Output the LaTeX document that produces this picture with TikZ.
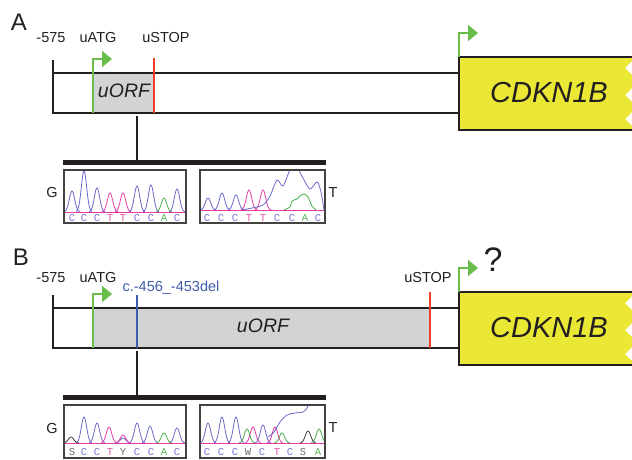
\documentclass[tikz,border=0pt]{standalone}
\usepackage{fontspec}
\setmainfont{Liberation Sans}
\newfontfamily\seqfont{Liberation Mono}
\usepackage{xcolor}
\usetikzlibrary{arrows.meta}

\definecolor{linec}{RGB}{35,31,32}
\definecolor{orfgray}{RGB}{210,211,213}
\definecolor{cdkfill}{RGB}{234,232,52}
\definecolor{startc}{RGB}{105,190,75}
\definecolor{stopc}{RGB}{237,64,36}
\definecolor{mutc}{RGB}{62,92,172}
\definecolor{tblue}{RGB}{105,105,200}
\definecolor{tpink}{RGB}{228,60,165}
\definecolor{tgreen}{RGB}{75,172,75}
\definecolor{tgray}{RGB}{60,60,60}
\definecolor{lblue}{RGB}{120,120,215}
\definecolor{lpink}{RGB}{232,85,172}
\definecolor{lgreen}{RGB}{90,180,90}
\definecolor{lgray}{RGB}{105,105,105}

\begin{document}
\begin{tikzpicture}[x=1pt,y=-1pt,
    lbl/.style={inner sep=0pt, text=linec, font=\fontsize{14.5}{16}\selectfont},
    panel/.style={inner sep=0pt, text=linec, font=\fontsize{24}{26}\selectfont},
    gene/.style={inner sep=0pt, text=linec, font=\fontsize{29}{31}\selectfont\itshape},
    orf/.style={inner sep=0pt, text=linec, font=\fontsize{19.5}{21}\selectfont\itshape},
    dna/.style={draw=linec, line width=1.8pt},
    atg/.style={draw=startc, line width=2pt, -{Triangle[length=10pt,width=16pt]}},
    stopmark/.style={draw=stopc, line width=2pt},
    stem/.style={draw=linec, line width=2.5pt},
    chrom/.style={draw=linec!85, line width=1.2pt},
    trace/.style={line width=0.8pt, line join=round},
    base/.style={inner sep=0pt, font=\seqfont\fontsize{10.5}{10.5}\selectfont},
  ]
  \useasboundingbox (0,0) rectangle (632,459);
  \def\pk#1#2#3#4{\draw[trace,#1] plot[variable=\t,domain=-8:8,samples=33,smooth] ({#2+\t},{#3-#4*exp(-0.07*(\t)*(\t))});}

  % uORF shading
  \fill[orfgray] (93,73) rectangle (154,113);
  \fill[orfgray] (93,308) rectangle (430,348);

  % both constructs
  \foreach \p/\dy in {A/0,B/235}{
    \begin{scope}[shift={(0,\dy)}]
      \draw[dna] (53,60) |- (459,113);
      \draw[dna] (53,73) -- (459,73);
      \fill[cdkfill] (459,57) -- (632,57) -- (632,61) -- (625,68) -- (632,75) -- (632,88) -- (625,95)
        -- (632,102) -- (632,112) -- (625,119) -- (632,126) -- (632,130) -- (459,130) -- cycle;
      \draw[dna] (632,57) -- (459,57) -- (459,130) -- (632,130);
      \node[gene] (cdk\p) at (549,93) {CDKN1B};
      \draw[atg] (459,57) |- (478,33);
      \draw[atg] (93,113) |- (112,59);
      \coordinate (hook\p) at (137,116);
      \coordinate (bar\p) at (137,162);
      \draw[stem] (hook\p) -- (bar\p);
      \draw[linec, line width=5pt] (63,162) -- (326,162);
      \draw[chrom] (64,170) rectangle (186,223);
      \draw[chrom] (200,170) rectangle (325,223);
      \node[lbl] (g\p) at (52,193) {G};
      \node[lbl] (t\p) at (333,193) {T};
    \end{scope}
  }

  % panel A
  \node[panel] (labA) at (19,22) {A};
  \node[lbl] (posA) at (51,38) {-575};
  \node[lbl] (atgA) at (98,38) {uATG};
  \node[lbl] (stopA) at (166,38) {uSTOP};
  \node[orf] (orfA) at (124,91) {uORF};
  \draw[stopmark] (154,58) -- (154,113);

  \begin{scope}
    \clip (65,171) rectangle (185,212.5);
    \draw[trace,tpink] (65,212) -- (185,212);
    \foreach \px/\ph in {72/21,84/41,97/24,137/26,151/27,177/23} {\pk{tblue}{\px}{212}{\ph}}
    \foreach \px/\ph in {110/19,123/19} {\pk{tpink}{\px}{212}{\ph}}
    \pk{tgreen}{164}{212}{14}
  \end{scope}
  \begin{scope}
    \clip (201,171) rectangle (324,210.5);
    \draw[trace,tpink] (201,210) -- (324,210);
    \foreach \px/\ph in {208/12,222/17,236/15} {\pk{tblue}{\px}{210}{\ph}}
    \foreach \px/\ph in {249/20,263/20} {\pk{tpink}{\px}{210}{\ph}}
    \draw[trace,tblue] plot[smooth] coordinates {(242,210) (252,208) (263,205) (270,196) (277,180)
      (283,186) (290,170) (296,166) (303,178) (310,189) (317,182) (321,192) (324,210)};
    \draw[trace,tgreen] plot[smooth] coordinates {(284,210) (290,207) (292,201) (297,199) (300,196)
      (304,194) (308,197) (312,206) (316,210)};
  \end{scope}
  \foreach \lx/\lt/\lc [count=\i] in {72/C/lblue,84/C/lblue,97/C/lblue,110/T/lpink,123/T/lpink,
      137/C/lblue,151/C/lblue,164/A/lgreen,177/C/lblue}
    {\node[base, text=\lc] (sa\i) at (\lx,218) {\lt};}
  \foreach \lx/\lt/\lc [count=\i] in {207/C/lblue,221/C/lblue,235/C/lblue,249/T/lpink,263/T/lpink,
      277/C/lblue,292/C/lblue,305/A/lgreen,318/C/lblue}
    {\node[base, text=\lc] (ta\i) at (\lx,218) {\lt};}

  % panel B
  \node[panel] (labB) at (21,257) {B};
  \node[lbl] (posB) at (51,278) {-575};
  \node[lbl] (atgB) at (98,278) {uATG};
  \node[lbl, text=mutc] (delB) at (171,288) {c.-456\_-453del};
  \node[lbl] (stopB) at (428,278) {uSTOP};
  \node[orf] (orfB) at (263,326) {uORF};
  \node[inner sep=0pt, text=linec, font=\fontsize{34}{36}\selectfont] (askB) at (493,260) {?};
  \draw[draw=mutc, line width=2pt] (137,295) -- (137,348);
  \draw[stopmark] (430,292) -- (430,348);

  \begin{scope}
    \clip (65,406) rectangle (185,443.5);
    \draw[trace,tpink] (65,443) -- (185,443);
    \foreach \px/\ph in {84/26,97/20,123/5,137/20,150/17,177/15} {\pk{tblue}{\px}{443}{\ph}}
    \foreach \px/\ph in {109/16,123/8} {\pk{tpink}{\px}{443}{\ph}}
    \pk{tgreen}{164}{443}{10}
    \pk{tgray}{71}{443}{6}
  \end{scope}
  \begin{scope}
    \clip (201,406) rectangle (324,443.5);
    \draw[trace,tpink] (201,443) -- (324,443);
    \foreach \px/\ph in {208/20,222/26,236/26,263/18} {\pk{tblue}{\px}{443}{\ph}}
    \foreach \px/\ph in {253/16,275/16} {\pk{tpink}{\px}{443}{\ph}}
    \foreach \px/\ph in {247/14,282/10,319/14} {\pk{tgreen}{\px}{443}{\ph}}
    \pk{tgray}{308}{443}{12}
    \draw[trace,tblue] plot[smooth] coordinates {(268,437) (274,432) (280,422) (287,415) (295,413)
      (303,412) (307,408) (311,398)};
  \end{scope}
  \foreach \lx/\lt/\lc [count=\i] in {72/S/lgray,84/C/lblue,97/C/lblue,110/T/lpink,123/Y/lgray,
      137/C/lblue,151/C/lblue,164/A/lgreen,177/C/lblue}
    {\node[base, text=\lc] (sb\i) at (\lx,452) {\lt};}
  \foreach \lx/\lt/\lc [count=\i] in {207/C/lblue,221/C/lblue,235/C/lblue,248/W/lgray,262/C/lblue,
      277/T/lpink,290/C/lblue,303/S/lgray,318/A/lgreen}
    {\node[base, text=\lc] (tb\i) at (\lx,452) {\lt};}
\end{tikzpicture}
\end{document}
